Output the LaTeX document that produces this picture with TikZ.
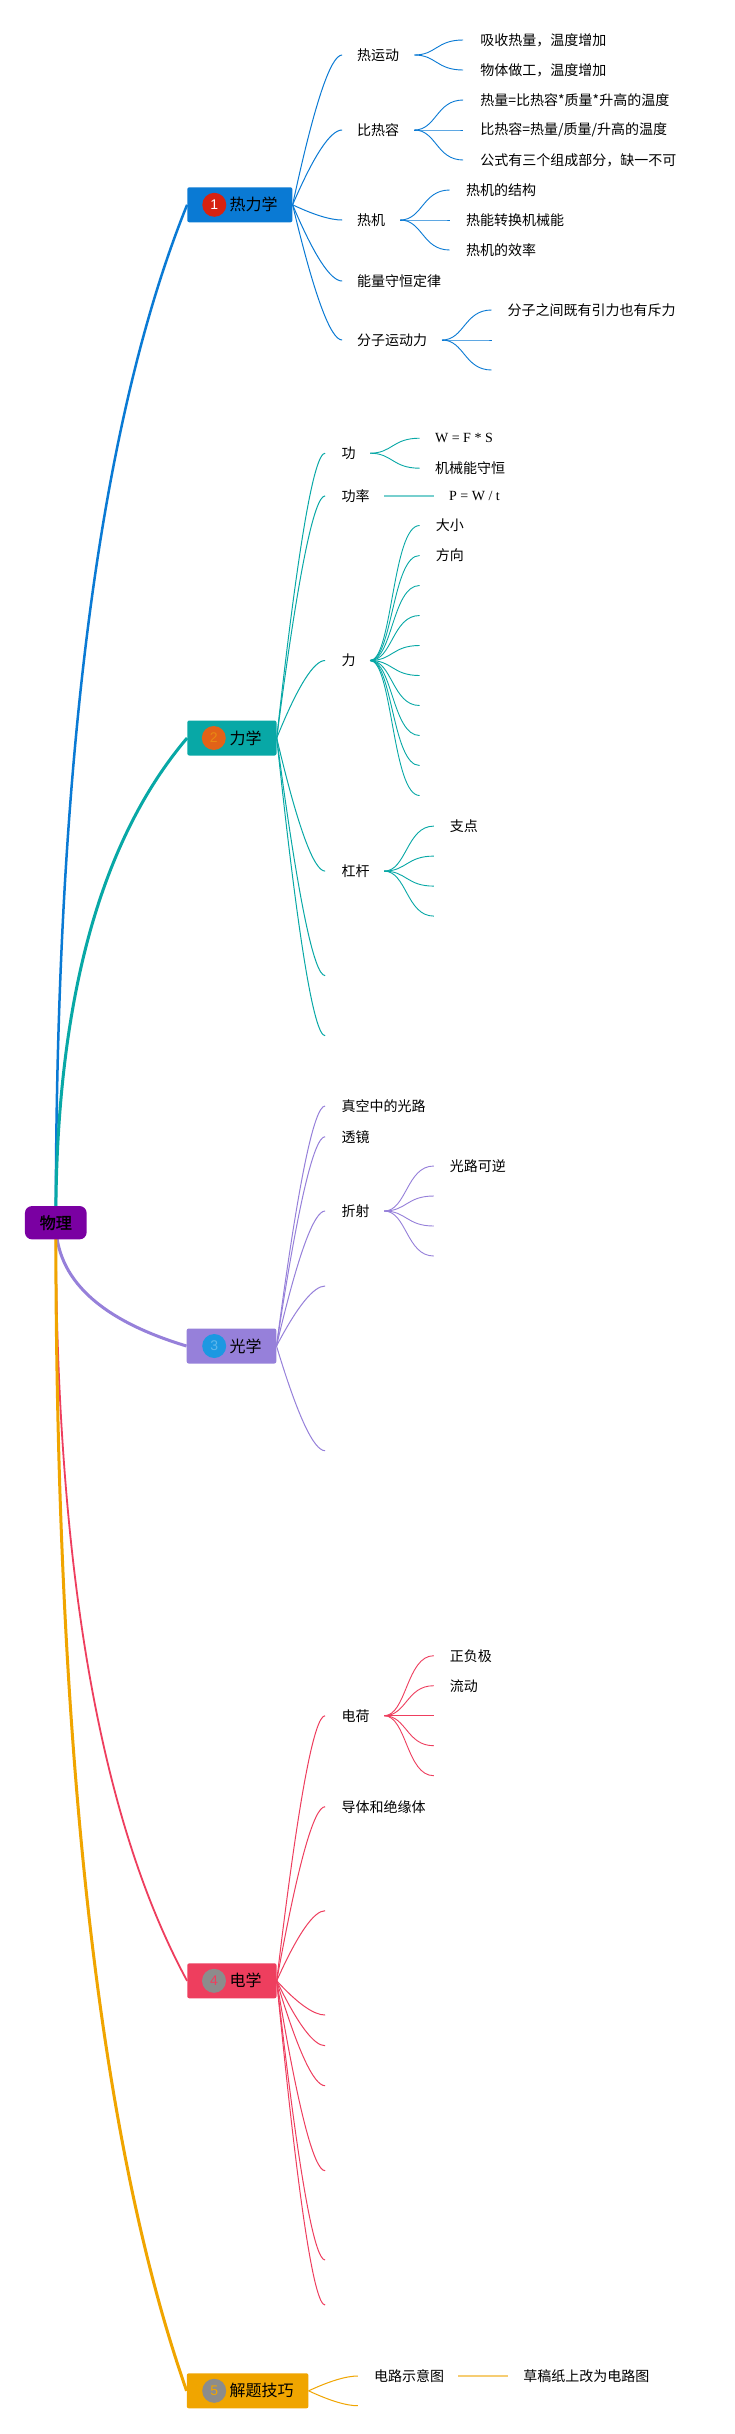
\documentclass[tikz,border=0pt]{standalone}
\usepackage{fontspec}
\setmainfont{Noto Sans CJK SC}
\newfontfamily\serifF{Liberation Serif}
\newfontfamily\numF{Liberation Sans}
\newfontfamily\rootF{Noto Sans CJK SC}[FakeBold=1.5]
\usetikzlibrary{calc}
\pgfdeclarelayer{bg}
\pgfsetlayers{bg,main}
\definecolor{cRoot}{RGB}{122,0,162}
\definecolor{cThermo}{RGB}{10,122,212}
\definecolor{cMech}{RGB}{8,168,166}
\definecolor{cOpt}{RGB}{150,128,218}
\definecolor{cElec}{RGB}{238,62,94}
\definecolor{cTip}{RGB}{240,165,0}
\definecolor{bRed}{RGB}{214,34,16}
\definecolor{bOrange}{RGB}{226,98,24}
\definecolor{bBlue}{RGB}{28,152,226}
\definecolor{bGray}{RGB}{140,140,140}
\tikzset{
  mainconn/.style={line width=2.7pt, to path={let \p1=(\tikztostart), \p2=(\tikztotarget) in .. controls (\x1, {\y1+0.453*(\y2-\y1)}) and ({\x2-0.667*(\x2-\x1)}, {\y2-0.213*(\y2-\y1)}) .. (\tikztotarget)}},
  lvlconn/.style={line width=1pt, to path={let \p1=(\tikztostart), \p2=(\tikztotarget) in .. controls ({\x1+0.433*(\x2-\x1)}, {\y1+0.667*(\y2-\y1)}) and ({\x2-0.233*(\x2-\x1)}, \y2) .. (\tikztotarget)}},
  subconn/.style={line width=0.9pt, to path={let \p1=(\tikztostart), \p2=(\tikztotarget) in .. controls ({\x1+0.45*(\x2-\x1)}, \y1) and ({\x1+0.45*(\x2-\x1)}, \y2) .. (\tikztotarget)}},
  flatconn/.style={line width=1.8pt, draw opacity=0.55},
  lbl/.style={anchor=west, inner sep=0pt, text=black, font=\fontsize{14}{16}\selectfont},
  mainlbl/.style={anchor=west, inner sep=0pt, text=black, font=\fontsize{16}{18}\selectfont},
  mainbox/.style={anchor=west, rectangle, rounded corners=2pt, minimum height=35pt, inner sep=0pt},
  badge/.style={circle, minimum size=24pt, inner sep=0pt, font=\fontsize{14}{14}\numF},
  rootbox/.style={rectangle, rounded corners=7pt, fill=cRoot, minimum width=61.7pt, minimum height=33.3pt, inner sep=0pt, text=black, font=\fontsize{16}{18}\rootF}
}
\newcommand{\brn}[8]{\coordinate (#4) at (#5,#6); \node[lbl] (#4t) at (#7,#6) {#8}; \begin{pgfonlayer}{bg}\draw[#1,#2] (#3) to (#4);\end{pgfonlayer}}
\newcommand{\brnE}[6]{\coordinate (#4) at (#5,#6); \begin{pgfonlayer}{bg}\draw[#1,#2] (#3) to (#4);\end{pgfonlayer}}
\begin{document}
\begin{tikzpicture}[x=1pt,y=-1pt]
\useasboundingbox (0,0) rectangle (735,2434);
\begin{pgfonlayer}{bg}
\fill[white] (0,0) rectangle (735,2434);
\end{pgfonlayer}

% root
\node[rootbox] (root) at (55.8,1222.7) {物理};

% main topics
\node[mainbox, fill=cThermo, minimum width=105.1pt] (m1) at (187.1,204.8) {};
\node[badge, fill=bRed, text=white] (m1b) at (214.3,204.8) {1};
\node[mainlbl] (m1t) at (229.3,204.8) {热力学};

\node[mainbox, fill=cMech, minimum width=89.2pt] (m2) at (187.1,738) {};
\node[badge, fill=bOrange, text=bOrange!75!yellow] (m2b) at (213.8,738) {2};
\node[mainlbl] (m2t) at (229.3,738) {力学};

\node[mainbox, fill=cOpt, minimum width=89.6pt] (m3) at (186.5,1346) {};
\node[badge, fill=bBlue, text=bBlue!70!white] (m3b) at (214.2,1346) {3};
\node[mainlbl] (m3t) at (229.3,1346) {光学};

\node[mainbox, fill=cElec, minimum width=89.2pt] (m4) at (187.1,1980.8) {};
\node[badge, fill=bGray, text=cElec] (m4b) at (214,1980.8) {4};
\node[mainlbl] (m4t) at (229.3,1980.8) {电学};

\node[mainbox, fill=cTip, minimum width=121.6pt] (m5) at (186.6,2390.8) {};
\node[badge, fill=bGray, text=cTip] (m5b) at (214.2,2390.8) {5};
\node[mainlbl] (m5t) at (229.3,2390.8) {解题技巧};

\begin{pgfonlayer}{bg}
\draw[mainconn, cThermo, line width=2.5pt] (root.center) to (m1.west);
\draw[mainconn, cMech, line width=3pt] (root.center) to (m2.west);
\draw[mainconn, cOpt, line width=3pt] (root.center) to (m3.west);
\draw[mainconn, cElec, line width=1.8pt] (root.center) to (m4.west);
\draw[mainconn, cTip, line width=3pt] (root.center) to (m5.west);
\end{pgfonlayer}

% thermodynamics
\brn{lvlconn}{cThermo}{m1.east}{t1}{342.1}{55}{357}{热运动}
\brn{lvlconn}{cThermo}{m1.east}{t2}{342.1}{130}{357}{比热容}
\brn{lvlconn}{cThermo}{m1.east}{t3}{342.1}{220}{357}{热机}
\brn{lvlconn}{cThermo}{m1.east}{t4}{342.1}{281}{357}{能量守恒定律}
\brn{lvlconn}{cThermo}{m1.east}{t5}{342.1}{340}{357}{分子运动力}
\coordinate (t1s) at (414.3,55);
\brn{subconn}{cThermo}{t1s}{t11}{463.2}{40}{480.2}{吸收热量，温度增加}
\brn{subconn}{cThermo}{t1s}{t12}{463.2}{70}{480.2}{物体做工，温度增加}
\coordinate (t2s) at (414.3,130);
\brn{subconn}{cThermo}{t2s}{t21}{463.2}{100}{480.2}{热量=比热容*质量*升高的温度}
\brn{subconn}{cThermo}{t2s}{t22}{463.2}{130}{480.2}{比热容=热量/质量/升高的温度}
\brn{subconn}{cThermo}{t2s}{t23}{463.2}{160}{480.2}{公式有三个组成部分，缺一不可}
\coordinate (t3s) at (400.2,220);
\brn{subconn}{cThermo}{t3s}{t31}{449.7}{190}{466}{热机的结构}
\brn{subconn}{cThermo}{t3s}{t32}{449.7}{220}{466}{热能转换机械能}
\brn{subconn}{cThermo}{t3s}{t33}{449.7}{250}{466}{热机的效率}
\coordinate (t5s) at (442,340);
\brn{subconn}{cThermo}{t5s}{t51}{491.5}{310}{507.4}{分子之间既有引力也有斥力}
\brnE{subconn}{cThermo}{t5s}{t52}{491.5}{340}
\brnE{subconn}{cThermo}{t5s}{t53}{491.5}{370}

% mechanics
\brn{lvlconn}{cMech}{m2.east}{k1}{325.1}{453.2}{341.4}{功}
\brn{lvlconn}{cMech}{m2.east}{k2}{325.1}{495.9}{341.4}{功率}
\brn{lvlconn}{cMech}{m2.east}{k3}{325.1}{660.5}{341.4}{力}
\brn{lvlconn}{cMech}{m2.east}{k4}{325.1}{871.1}{341.4}{杠杆}
\brnE{lvlconn}{cMech}{m2.east}{k5}{325.1}{975.6}
\brnE{lvlconn}{cMech}{m2.east}{k6}{325.1}{1035.7}
\coordinate (k1s) at (370.1,453.2);
\brn{subconn}{cMech}{k1s}{k11}{419.6}{438.2}{434.9}{\serifF W = F * S}
\brn{subconn}{cMech}{k1s}{k12}{419.6}{468.2}{434.9}{机械能守恒}
\coordinate (k2s) at (384.2,495.9);
\brn{flatconn}{cMech}{k2s}{k21}{433.8}{495.9}{449}{\serifF P = W / t}
\coordinate (k3s) at (370.1,660.5);
\brn{subconn}{cMech}{k3s}{k31}{419.6}{525.5}{435.6}{大小}
\brn{subconn}{cMech}{k3s}{k32}{419.6}{555.5}{435.6}{方向}
\brnE{subconn}{cMech}{k3s}{k33}{419.6}{585.5}
\brnE{subconn}{cMech}{k3s}{k34}{419.6}{615.5}
\brnE{subconn}{cMech}{k3s}{k35}{419.6}{645.5}
\brnE{subconn}{cMech}{k3s}{k36}{419.6}{675.5}
\brnE{subconn}{cMech}{k3s}{k37}{419.6}{705.5}
\brnE{subconn}{cMech}{k3s}{k38}{419.6}{735.5}
\brnE{subconn}{cMech}{k3s}{k39}{419.6}{765.5}
\brnE{subconn}{cMech}{k3s}{k3z}{419.6}{795.5}
\coordinate (k4s) at (384.2,871.1);
\brn{subconn}{cMech}{k4s}{k41}{433.8}{826.1}{449.7}{支点}
\brnE{subconn}{cMech}{k4s}{k42}{433.8}{856.1}
\brnE{subconn}{cMech}{k4s}{k43}{433.8}{886.1}
\brnE{subconn}{cMech}{k4s}{k44}{433.8}{916.1}

% optics
\brn{lvlconn}{cOpt}{m3.east}{o1}{325.1}{1106}{341.4}{真空中的光路}
\brn{lvlconn}{cOpt}{m3.east}{o2}{325.1}{1136.7}{341.4}{透镜}
\brn{lvlconn}{cOpt}{m3.east}{o3}{325.1}{1211}{341.4}{折射}
\brnE{lvlconn}{cOpt}{m3.east}{o4}{325.1}{1286}
\brnE{lvlconn}{cOpt}{m3.east}{o5}{325.1}{1450.7}
\coordinate (o3s) at (384.2,1211);
\brn{subconn}{cOpt}{o3s}{o31}{433.8}{1166}{449.7}{光路可逆}
\brnE{subconn}{cOpt}{o3s}{o32}{433.8}{1196}
\brnE{subconn}{cOpt}{o3s}{o33}{433.8}{1226}
\brnE{subconn}{cOpt}{o3s}{o34}{433.8}{1256}

% electricity
\brn{lvlconn}{cElec}{m4.east}{e1}{325.1}{1715.7}{341.4}{电荷}
\brn{lvlconn}{cElec}{m4.east}{e2}{325.1}{1806.7}{341.4}{导体和绝缘体}
\brnE{lvlconn}{cElec}{m4.east}{e3}{325.1}{1910.7}
\brnE{lvlconn}{cElec}{m4.east}{e4}{325.1}{2015}
\brnE{lvlconn}{cElec}{m4.east}{e5}{325.1}{2045.7}
\brnE{lvlconn}{cElec}{m4.east}{e6}{325.1}{2085.7}
\brnE{lvlconn}{cElec}{m4.east}{e7}{325.1}{2170.7}
\brnE{lvlconn}{cElec}{m4.east}{e8}{325.1}{2260}
\brnE{lvlconn}{cElec}{m4.east}{e9}{325.1}{2305}
\coordinate (e1s) at (384.2,1715.7);
\brn{subconn}{cElec}{e1s}{e11}{433.8}{1655.7}{449.7}{正负极}
\brn{subconn}{cElec}{e1s}{e12}{433.8}{1685.7}{449.7}{流动}
\brnE{subconn}{cElec}{e1s}{e13}{433.8}{1715.7}
\brnE{subconn}{cElec}{e1s}{e14}{433.8}{1745.7}
\brnE{subconn}{cElec}{e1s}{e15}{433.8}{1775.7}

% tips
\brn{lvlconn}{cTip}{m5.east}{p1}{357.8}{2376}{373.9}{电路示意图}
\brnE{lvlconn}{cTip}{m5.east}{p2}{357.8}{2405.7}
\coordinate (p1s) at (458.2,2376);
\brn{flatconn}{cTip}{p1s}{p11}{507.5}{2376}{523.1}{草稿纸上改为电路图}
\end{tikzpicture}
\end{document}
